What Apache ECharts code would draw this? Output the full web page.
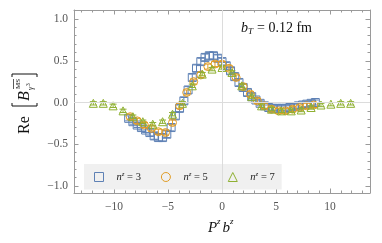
<!DOCTYPE html>
<html><head><meta charset="utf-8">
<script src="https://cdn.jsdelivr.net/npm/echarts@6/dist/echarts.min.js"></script>
<style>html,body{margin:0;padding:0;background:#fff}#c{width:382px;height:243px}</style>
</head><body><div id="c"></div>
<script>
// ---- data ----
const xTicks = [-10, -5, 0, 5, 10];
const yTicks = [-1.0, -0.5, 0.0, 0.5, 1.0];
const seriesLabels = ['3', '5', '7'];

const n3X = [-8.64,-8.25,-7.85,-7.46,-7.07,-6.68,-6.28,-5.89,-5.50,-5.11,-4.71,-4.32,-3.93,-3.53,-3.14,-2.75,-2.36,-1.96,-1.57,-1.18,-0.79,-0.39,0,0.39,0.79,1.18,1.57,1.96,2.36,2.75,3.14,3.53,3.93,4.32,4.71,5.11,5.50,5.89,6.28,6.68,7.07,7.46,7.85,8.25,8.64];
const n3Y = [-0.19,-0.23,-0.27,-0.30,-0.33,-0.36,-0.40,-0.42,-0.42,-0.38,-0.30,-0.16,-0.07,0.02,0.15,0.30,0.41,0.49,0.54,0.56,0.56,0.53,0.49,0.44,0.38,0.31,0.24,0.18,0.12,0.07,0.03,-0.01,-0.04,-0.06,-0.07,-0.07,-0.07,-0.07,-0.06,-0.05,-0.04,-0.03,-0.02,-0.01,0.00];
const n3E = [0.03,0.03,0.03,0.03,0.03,0.04,0.04,0.04,0.04,0.04,0.04,0.04,0.04,0.04,0.04,0.04,0.04,0.04,0.04,0.04,0.04,0.04,0.04,0.04,0.04,0.04,0.04,0.04,0.04,0.04,0.03,0.03,0.03,0.03,0.03,0.03,0.03,0.03,0.03,0.03,0.03,0.03,0.03,0.03,0.03];

const n5X = [-8.50,-7.85,-7.19,-6.54,-5.89,-5.23,-4.58,-3.92,-3.27,-2.62,-1.96,-1.31,-0.65,0,0.65,1.31,1.96,2.62,3.27,3.92,4.58,5.23,5.89,6.54,7.19,7.85,8.50];
const n5Y = [-0.17,-0.22,-0.27,-0.31,-0.35,-0.36,-0.24,-0.04,0.12,0.25,0.33,0.43,0.46,0.46,0.41,0.30,0.19,0.10,0.02,-0.04,-0.08,-0.10,-0.10,-0.08,-0.06,-0.04,-0.03];
const n5E = [0.03,0.03,0.03,0.03,0.03,0.03,0.03,0.03,0.03,0.03,0.03,0.03,0.03,0.03,0.03,0.03,0.03,0.03,0.03,0.03,0.03,0.03,0.03,0.03,0.03,0.03,0.03];

const n7X = [-11.91,-10.99,-10.08,-9.16,-8.25,-7.33,-6.41,-5.50,-4.58,-3.66,-2.75,-1.83,-0.92,0,0.92,1.83,2.75,3.66,4.58,5.50,6.41,7.33,8.25,9.16,10.08,10.99,11.91];
const n7Y = [-0.01,-0.01,-0.04,-0.10,-0.17,-0.23,-0.26,-0.23,-0.14,-0.01,0.20,0.34,0.40,0.42,0.36,0.20,0.07,-0.04,-0.08,-0.10,-0.10,-0.09,-0.06,-0.03,-0.02,-0.01,-0.01];
const n7E = [0.02,0.02,0.02,0.02,0.02,0.02,0.02,0.02,0.02,0.02,0.02,0.02,0.02,0.02,0.02,0.02,0.02,0.02,0.02,0.02,0.02,0.02,0.02,0.02,0.02,0.02,0.02];

// ---- styling ----
const COLORS = ['#5e81b5', '#e19c24', '#8fb032'];
const SYMBOLS = ['rect', 'circle', 'triangle'];
const SIZES = [8, 8, 8];
const FRAME = '#9a9a9a';
const SERIF = '"Liberation Serif", "DejaVu Serif", serif';
const XMIN = -13.7, XMAX = 13.7, YMIN = -1.084, YMAX = 1.108;

const xMinor = [], yMinor = [];
for (let v = -13; v <= 13; v++) if (v % 5 !== 0) xMinor.push(v);
for (let v = -10; v <= 11; v++) if (v % 5 !== 0) yMinor.push(v / 10);

const fmtNum = (v, d) => { const s = Math.abs(v).toFixed(d); return (v < 0 ? '\u2212' : '') + s; };

function mkAxis(kind, pos, ticks, len, withLine, withLabels) {
  return {
    type: 'value', position: pos,
    min: kind === 'x' ? XMIN : YMIN, max: kind === 'x' ? XMAX : YMAX,
    axisLine: { show: withLine, onZero: false, lineStyle: { color: FRAME, width: 1 } },
    axisTick: { show: true, inside: true, length: len, customValues: ticks, lineStyle: { color: FRAME, width: 1 } },
    axisLabel: withLabels ? {
      show: true, customValues: ticks, color: '#555', fontFamily: SERIF, fontSize: 11.5,
      margin: kind === 'x' ? 8 : 6,
      formatter: v => fmtNum(v, kind === 'x' ? 0 : 1)
    } : { show: false },
    splitLine: { show: false }
  };
}

const xAxes = [
  mkAxis('x', 'bottom', xTicks, 4.5, true, true),
  mkAxis('x', 'top', xTicks, 4.5, true, false),
  mkAxis('x', 'bottom', xMinor, 2.5, false, false),
  mkAxis('x', 'top', xMinor, 2.5, false, false)
];
const yAxes = [
  mkAxis('y', 'left', yTicks, 4.5, true, true),
  mkAxis('y', 'right', yTicks, 4.5, true, false),
  mkAxis('y', 'left', yMinor, 2.5, false, false),
  mkAxis('y', 'right', yMinor, 2.5, false, false)
];

function errRender(color) {
  return function (params, api) {
    const x = api.value(0), y = api.value(1), e = api.value(2);
    const lo = api.coord([x, y - e]), hi = api.coord([x, y + e]);
    const w = 3.5;
    const st = { stroke: color, lineWidth: 1 };
    return { type: 'group', children: [
      { type: 'line', shape: { x1: lo[0], y1: lo[1], x2: hi[0], y2: hi[1] }, style: st },
      { type: 'line', shape: { x1: lo[0] - w, y1: lo[1], x2: lo[0] + w, y2: lo[1] }, style: st },
      { type: 'line', shape: { x1: hi[0] - w, y1: hi[1], x2: hi[0] + w, y2: hi[1] }, style: st }
    ]};
  };
}

const groups = [[n3X, n3Y, n3E], [n5X, n5Y, n5E], [n7X, n7Y, n7E]];
const series = [];
series.push({
  type: 'scatter', data: [], silent: true, z: 1,
  markLine: { silent: true, symbol: 'none', label: { show: false }, animation: false,
    lineStyle: { color: '#dcdcdc', width: 1, type: 'solid' },
    data: [{ xAxis: 0 }, { yAxis: 0 }] }
});
groups.forEach((g, i) => {
  const [xs, ys, es] = g;
  series.push({
    type: 'custom', name: 'err' + i, renderItem: errRender(COLORS[i]),
    data: xs.map((x, k) => [x, ys[k], es[k]]), encode: { x: 0, y: 1 }, z: 2 + i, silent: true
  });
  series.push({
    type: 'scatter', name: 'n' + seriesLabels[i], symbol: SYMBOLS[i], symbolSize: SIZES[i],
    data: xs.map((x, k) => [x, ys[k]]), z: 2 + i,
    itemStyle: { color: 'rgba(0,0,0,0)', borderColor: COLORS[i], borderWidth: 1, opacity: 1 }
  });
});

const chart = echarts.init(document.getElementById('c'), null, { renderer: 'canvas' });
chart.setOption({
  animation: false,
  grid: { left: 74, right: 12, top: 10, bottom: 50, containLabel: false },
  xAxis: xAxes, yAxis: yAxes,
  legend: {
    left: 84, top: 164, orient: 'horizontal',
    backgroundColor: '#f0f0f0', borderRadius: 0,
    padding: [7, 7, 7, 10], itemGap: 20, itemWidth: 9, itemHeight: 9,
    selectedMode: false,
    data: seriesLabels.map((s, i) => ({
      name: 'n' + s, icon: SYMBOLS[i],
      itemStyle: { color: 'rgba(0,0,0,0)', borderColor: COLORS[i], borderWidth: 1 }
    })),
    formatter: name => '{i|n}{s|z}{t| = ' + name.slice(1) + '}',
    textStyle: {
      fontFamily: SERIF, fontSize: 10, color: '#222',
      rich: {
        i: { fontFamily: SERIF, fontStyle: 'italic', fontSize: 10.5, padding: [0, 0, 0, 8], color: '#222' },
        s: { fontFamily: SERIF, fontStyle: 'italic', fontSize: 7, padding: [0, 0, 5, 0], color: '#222' },
        t: { fontFamily: SERIF, fontSize: 10.5, color: '#222' }
      }
    }
  },
  graphic: [
    { type: 'text', x: 241, y: 28, style: { text: 'b', font: 'italic 14px ' + SERIF, fill: '#111', verticalAlign: 'middle' } },
    { type: 'text', x: 248, y: 32, style: { text: 'T', font: 'italic 9px ' + SERIF, fill: '#111', verticalAlign: 'middle' } },
    { type: 'text', x: 257, y: 28, style: { text: '= 0.12 fm', font: '14px ' + SERIF, fill: '#111', verticalAlign: 'middle' } },
    { type: 'text', x: 208, y: 228, style: { text: 'P', font: 'italic 15px ' + SERIF, fill: '#111', verticalAlign: 'middle' } },
    { type: 'text', x: 217, y: 222, style: { text: 'z', font: 'italic 9px ' + SERIF, fill: '#111', verticalAlign: 'middle' } },
    { type: 'text', x: 222.5, y: 228, style: { text: 'b', font: 'italic 15px ' + SERIF, fill: '#111', verticalAlign: 'middle' } },
    { type: 'text', x: 230, y: 222, style: { text: 'z', font: 'italic 9px ' + SERIF, fill: '#111', verticalAlign: 'middle' } },
    { type: 'group', x: 25, y: 134, rotation: Math.PI / 2, children: [
      { type: 'text', x: 0, y: 0, style: { text: 'Re', font: '16px ' + SERIF, fill: '#111', verticalAlign: 'middle' } },
      { type: 'polyline', shape: { points: [[31, -13], [28, -13], [28, 12], [31, 12]] }, style: { stroke: '#111', lineWidth: 1, fill: null } },
      { type: 'text', x: 33, y: 0, style: { text: 'B', font: 'italic 16px ' + SERIF, fill: '#111', verticalAlign: 'middle' } },
      { type: 'text', x: 45, y: -7, style: { text: 'MS', font: '7px ' + SERIF, fill: '#111', verticalAlign: 'middle' } },
      { type: 'line', shape: { x1: 45, y1: -11.5, x2: 55, y2: -11.5 }, style: { stroke: '#111', lineWidth: 0.7 } },
      { type: 'text', x: 44, y: 6, style: { text: 'γ', font: 'italic 8px ' + SERIF, fill: '#111', verticalAlign: 'middle' } },
      { type: 'text', x: 48, y: 4, style: { text: '3', font: '5.5px ' + SERIF, fill: '#111', verticalAlign: 'middle' } },
      { type: 'polyline', shape: { points: [[57, -13], [60, -13], [60, 12], [57, 12]] }, style: { stroke: '#111', lineWidth: 1, fill: null } }
    ]}
  ],
  series: series
});
</script></body></html>
